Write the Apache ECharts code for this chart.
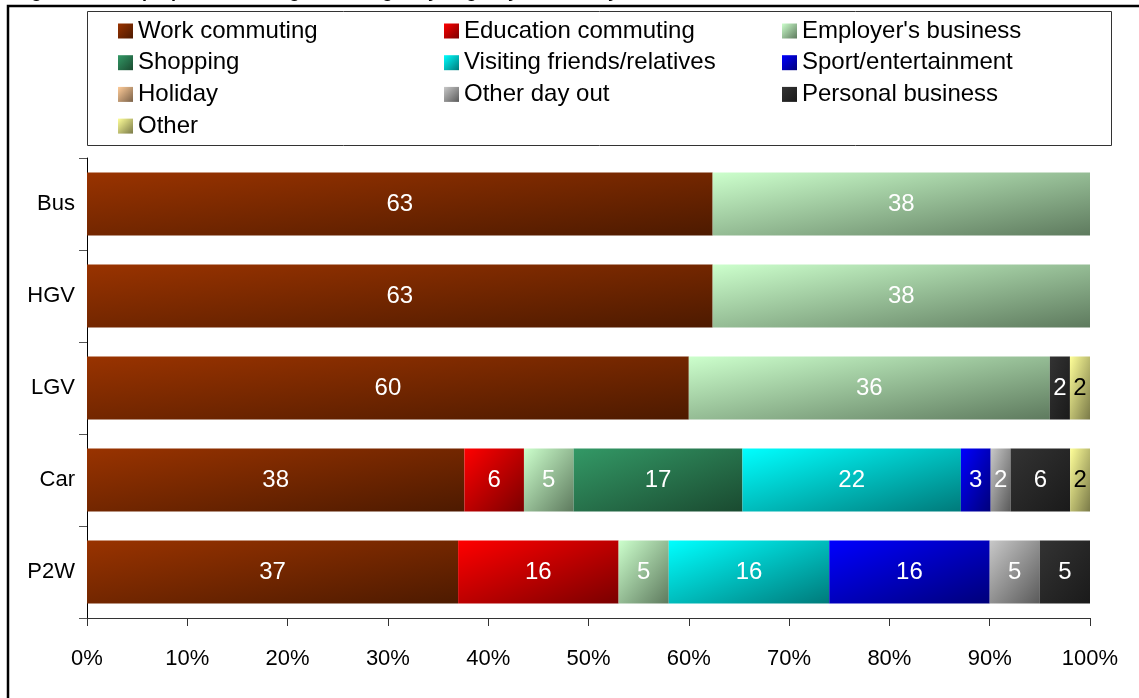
<!DOCTYPE html>
<html>
<head>
<meta charset="utf-8">
<script src="https://cdn.jsdelivr.net/npm/echarts@6/dist/echarts.min.js"></script>
<style>
  html, body { margin: 0; padding: 0; background: #fff; }
  #chart { width: 1139px; height: 698px; }
</style>
</head>
<body>
<div id="chart"></div>
<script>
// Modes of travel (top to bottom)
const modes = ['Bus', 'HGV', 'LGV', 'Car', 'P2W'];

// Trip purpose shares per mode (null = not present)
const workCommuting      = [63, 63, 60, 38, 37];
const educationCommuting = [null, null, null, 6, 16];
const employersBusiness  = [38, 38, 36, 5, 5];
const shopping           = [null, null, null, 17, null];
const visitingFriends    = [null, null, null, 22, 16];
const sportEntertainment = [null, null, null, 3, 16];
const holiday            = [null, null, null, null, null];
const otherDayOut        = [null, null, null, 2, 5];
const personalBusiness   = [null, null, 2, 6, 5];
const other              = [null, null, 2, 2, null];

const xTickLabels = ['0%', '10%', '20%', '30%', '40%', '50%', '60%', '70%', '80%', '90%', '100%'];

const purposes = [
  { name: 'Work commuting',             values: workCommuting,      c0: '#993300', c1: '#4d1a00', text: '#fff' },
  { name: 'Education commuting',        values: educationCommuting, c0: '#ff0000', c1: '#7a0000', text: '#fff' },
  { name: "Employer's business",        values: employersBusiness,  c0: '#ccffcc', c1: '#5e7a5e', text: '#fff' },
  { name: 'Shopping',                   values: shopping,           c0: '#339966', c1: '#1a4a30', text: '#fff' },
  { name: 'Visiting friends/relatives', values: visitingFriends,    c0: '#00ffff', c1: '#007a7a', text: '#fff' },
  { name: 'Sport/entertainment',        values: sportEntertainment, c0: '#0000ff', c1: '#00007a', text: '#fff' },
  { name: 'Holiday',                    values: holiday,            c0: '#ffcc99', c1: '#7a6148', text: '#fff' },
  { name: 'Other day out',              values: otherDayOut,        c0: '#c8c8c8', c1: '#5a5a5a', text: '#fff' },
  { name: 'Personal business',          values: personalBusiness,   c0: '#333333', c1: '#1a1a1a', text: '#fff' },
  { name: 'Other',                      values: other,              c0: '#ffff99', c1: '#7a7a48', text: '#000' }
];

// Row totals, used to scale each bar to 100%
const totals = modes.map((_, i) =>
  purposes.reduce((s, p) => s + (p.values[i] || 0), 0));

// Plot geometry (px)
const GRID = { left: 87, right: 49, top: 158, bottom: 80 };
const PLOT_W = 1139 - GRID.left - GRID.right;
const BAR_H = 63;
const FONT = 'Liberation Sans, Arial, sans-serif';

// Two-tone diagonal fill stretched over the segment's box, so the
// light corner is top-left and the dark corner is bottom-right.
function segmentFill(c0, c1, share) {
  const w = Math.max(1, share / 100 * PLOT_W), h = BAR_H;
  const s = w * w + h * h;
  return new echarts.graphic.LinearGradient(0, 0, 2 * h * h / s, 2 * w * w / s, [
    { offset: 0, color: c0 }, { offset: 1, color: c1 }
  ]);
}

const series = purposes.map(p => ({
  name: p.name,
  type: 'bar',
  stack: 'all',
  barWidth: BAR_H,
  itemStyle: {
    color: new echarts.graphic.LinearGradient(0, 0, 1, 1, [
      { offset: 0, color: p.c0 }, { offset: 1, color: p.c1 }
    ])
  },
  label: {
    show: true,
    position: 'inside',
    color: p.text,
    fontFamily: FONT,
    fontSize: 24,
    formatter: params => params.data.raw == null ? '' : String(params.data.raw)
  },
  data: p.values.map((v, i) => {
    if (v == null) return { value: null, raw: null };
    const share = v / totals[i] * 100;
    return { value: share, raw: v, itemStyle: { color: segmentFill(p.c0, p.c1, share) } };
  })
}));

const legendText = {
  color: '#000',
  fontFamily: FONT,
  fontSize: 24,
  lineHeight: 24
};
function legendColumn(names, left) {
  return {
    orient: 'vertical',
    left: left,
    top: 19,
    padding: 0,
    itemGap: 7.7,
    itemWidth: 15,
    itemHeight: 15,
    icon: 'rect',
    selectedMode: false,
    textStyle: legendText,
    data: names
  };
}

const chart = echarts.init(document.getElementById('chart'), null, { renderer: 'canvas' });
chart.setOption({
  animation: false,
  backgroundColor: '#fff',
  title: {
    text: 'Figure 4: Main purpose of driving on the Highways Agency network by mode',
    left: 15,
    top: -17,
    padding: 0,
    textStyle: { fontFamily: FONT, fontWeight: 'bold', fontSize: 18, color: '#000' }
  },
  graphic: [
    { type: 'rect', shape: { x: 8, y: 6, width: 1145, height: 710 },
      style: { fill: 'none', stroke: '#000', lineWidth: 2.5 }, silent: true, z: -1 },
    { type: 'rect', shape: { x: 87.5, y: 11.5, width: 1024, height: 134 },
      style: { fill: 'none', stroke: '#333', lineWidth: 1 }, silent: true, z: -1 }
  ],
  legend: [
    legendColumn(['Work commuting', 'Shopping', 'Holiday', 'Other'], 118),
    legendColumn(['Education commuting', 'Visiting friends/relatives', 'Other day out'], 444),
    legendColumn(["Employer's business", 'Sport/entertainment', 'Personal business'], 782)
  ],
  grid: { left: GRID.left, right: GRID.right, top: GRID.top, bottom: GRID.bottom, containLabel: false },
  xAxis: {
    type: 'value',
    min: 0,
    max: 100,
    interval: 10,
    axisLine: { show: true, lineStyle: { color: '#333', width: 1 } },
    axisTick: { show: true, length: 8, lineStyle: { color: '#333' } },
    splitLine: { show: false },
    axisLabel: {
      margin: 30,
      color: '#000',
      fontFamily: FONT,
      fontSize: 22,
      formatter: v => xTickLabels[Math.round(v / 10)]
    }
  },
  yAxis: {
    type: 'category',
    data: modes,
    inverse: true,
    axisLine: { show: true, lineStyle: { color: '#000', width: 1 } },
    axisTick: { show: true, length: 8, lineStyle: { color: '#555' } },
    axisLabel: {
      margin: 12,
      color: '#000',
      fontFamily: FONT,
      fontSize: 22
    }
  },
  series: series
});
</script>
</body>
</html>
